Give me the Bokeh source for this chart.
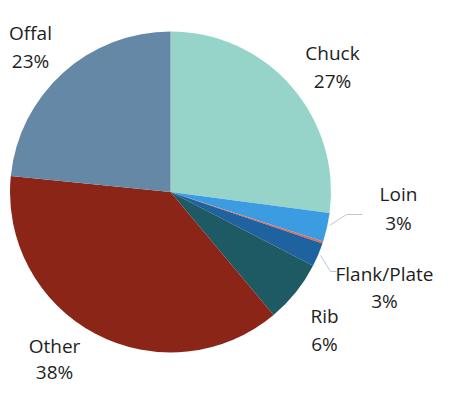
import math
from bokeh.plotting import figure
from bokeh.models import Range1d, ColumnDataSource
from bokeh.core.properties import value
from bokeh.embed import file_html
from bokeh.resources import INLINE

# ---- data (clockwise from 12 o'clock) ----
categories = ["Chuck", "Loin", "Round", "Flank/Plate", "Rib", "Other", "Offal"]
shares = [27.1, 2.9, 0.2, 2.4, 6.3, 37.7, 23.4]
pct_labels = ["27%", "3%", "", "3%", "6%", "38%", "23%"]
colors = ["#96d4c9", "#3c9ce2", "#e06a5c", "#1f62a0", "#1e5a64", "#8a2517", "#6688a7"]

# ---- layout (pixel space of the picture) ----
PW, PH = 434, 386
cx, cy, r = 170, 191.5, 160.5
# label anchor: (center x, baseline of name, baseline of percent)
label_pos = {
    "Chuck": (332, 52, 80),
    "Loin": (398, 193, 222),
    "Flank/Plate": (384, 273, 300),
    "Rib": (324, 315, 343),
    "Other": (54, 345, 371),
    "Offal": (30, 32, 60),
}
leaders = [
    ([329, 346, 362], [225, 214, 214]),
    ([320, 330, 336], [255, 271, 271]),
]

def fy(sy):
    return PH - sy

total = sum(shares)
starts, ends = [], []
acc = 0.0
for v in shares:
    a0 = math.pi / 2 - 2 * math.pi * (acc + v) / total
    a1 = math.pi / 2 - 2 * math.pi * acc / total
    starts.append(a0)
    ends.append(a1)
    acc += v

src = ColumnDataSource(dict(cat=categories, share=shares, color=colors,
                            start=starts, end=ends))

p = figure(width=PW, height=PH, output_backend="svg", toolbar_location=None,
           x_range=Range1d(0, PW), y_range=Range1d(0, PH),
           min_border=0, outline_line_color=None, background_fill_color="white")
p.axis.visible = False
p.grid.visible = False

p.wedge(x=cx, y=fy(cy), radius=r, start_angle="start", end_angle="end",
        fill_color="color", line_color=None, source=src)

for xs, ys in leaders:
    p.line(xs, [fy(v) for v in ys], line_color="#b9c7d6", line_width=1)

lx, ly, txt = [], [], []
for cat, pl in zip(categories, pct_labels):
    if cat not in label_pos:
        continue
    x, b1, b2 = label_pos[cat]
    lx += [x, x]
    ly += [fy(b1), fy(b2)]
    txt += [cat, pl]

p.text(x=lx, y=ly, text=txt, text_font=value("Open Sans"), text_font_size="19px",
       text_color="#1e1e1e", text_align="center", text_baseline="alphabetic")

open("out.html", "w").write(file_html(p, INLINE))
